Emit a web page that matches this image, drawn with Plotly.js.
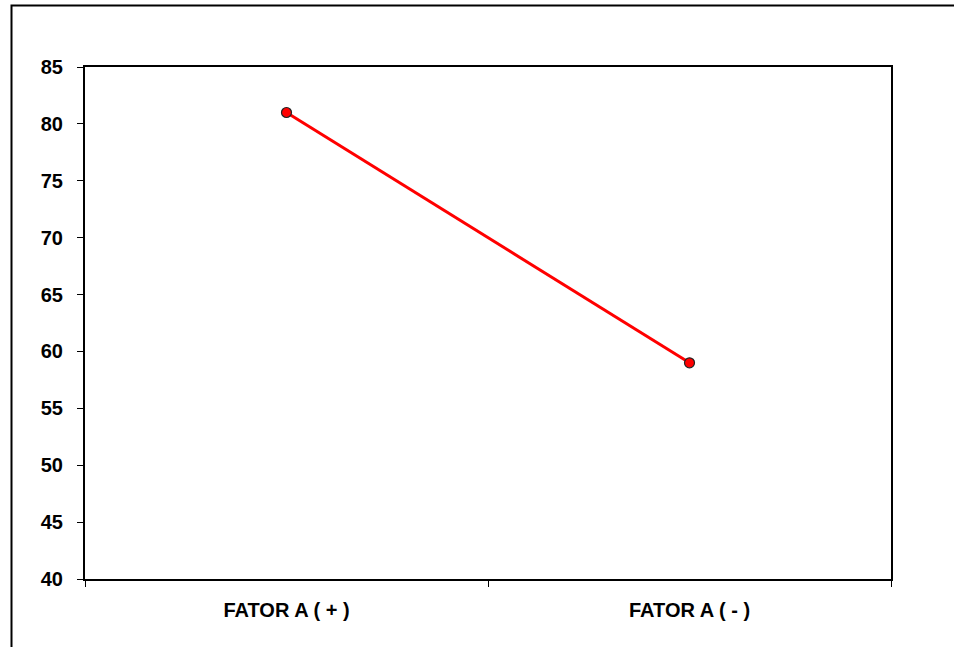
<!DOCTYPE html>
<html><head><meta charset="utf-8">
<script src="https://cdn.plot.ly/plotly-3.0.1.min.js"></script>
<style>html,body{margin:0;padding:0;background:#fff}#chart{width:954px;height:647px}</style>
</head><body><div id="chart"></div>
<script>
var categories = ["FATOR A ( + )", "FATOR A ( - )"];
var values = [81, 59];
var yTicks = [40, 45, 50, 55, 60, 65, 70, 75, 80, 85];

var trace = {
  x: categories, y: values, type: "scatter", mode: "lines+markers",
  line: {color: "#ff0000", width: 3},
  marker: {color: "#ff0000", size: 10, line: {color: "#222", width: 1.2}},
  hoverinfo: "none"
};
var font = {family: "Liberation Sans, Arial, sans-serif", size: 20, color: "#000", weight: "bold"};
var layout = {
  width: 954, height: 647,
  margin: {l: 85, r: 63, t: 67, b: 68},
  paper_bgcolor: "#fff", plot_bgcolor: "#fff",
  showlegend: false,
  font: font,
  xaxis: {
    type: "category", tickson: "boundaries", ticks: "outside", ticklen: 6, tickcolor: "#000",
    showline: true, mirror: true, linecolor: "#000", linewidth: 2, showgrid: false,
    tickfont: font, ticklabelstandoff: 12, range: [-0.5, 1.5]
  },
  yaxis: {
    range: [40, 85], tickvals: yTicks, ticktext: yTicks.map(String), ticks: "outside", ticklen: 6, tickcolor: "#000",
    showline: true, mirror: true, linecolor: "#000", linewidth: 2, showgrid: false, zeroline: false,
    tickfont: font, ticklabelstandoff: 10
  },
  shapes: [{
    type: "rect", xref: "paper", yref: "paper",
    x0: (11.5 - 85) / 806, x1: 2, y0: -1, y1: 1 + (67 - 5.5) / 512,
    line: {color: "#000", width: 2}
  }]
};
Plotly.newPlot("chart", [trace], layout, {displayModeBar: false, staticPlot: true});
</script></body></html>
